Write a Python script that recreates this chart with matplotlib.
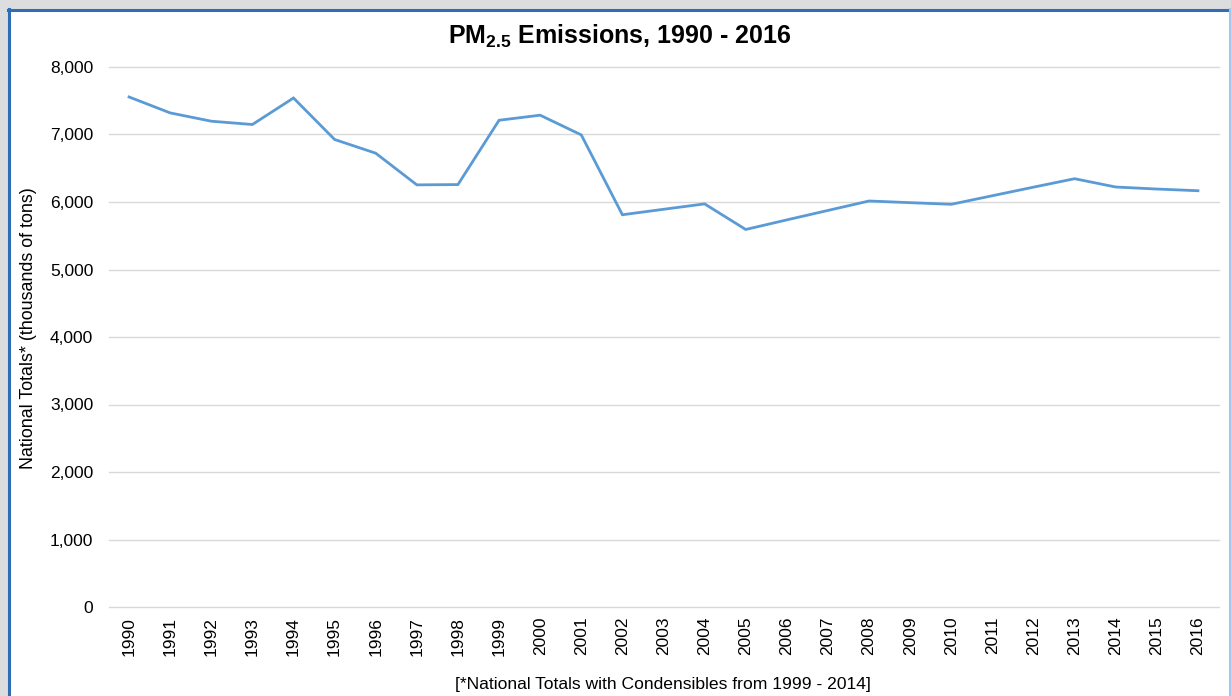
import matplotlib
matplotlib.use("Agg")
import matplotlib.pyplot as plt
from matplotlib.patches import Rectangle
from matplotlib.ticker import FuncFormatter

plt.rcParams['font.family'] = ['Liberation Sans', 'DejaVu Sans']
plt.rcParams['mathtext.fontset'] = 'custom'
plt.rcParams['mathtext.rm'] = 'Liberation Sans'
plt.rcParams['mathtext.bf'] = 'Liberation Sans:bold'

# data
years = [str(y) for y in range(1990, 2017)]
emissions = [7556, 7320, 7197, 7148, 7541, 6926, 6723, 6254, 6258, 7211,
             7286, 6994, 5811, 5892, 5972, 5593, 5735, 5875, 6015, 5990,
             5966, 6093, 6220, 6345, 6222, 6192, 6167]
y_ticks = [0, 1000, 2000, 3000, 4000, 5000, 6000, 7000, 8000]

W, H = 1231, 696
fig = plt.figure(figsize=(W / 100, H / 100), dpi=100)
fig.patch.set_facecolor('#dcdddf')

# white panel with blue frame
panel = Rectangle((8 / W, 0), (1222 / W), 1 - 9.5 / H,
                  transform=fig.transFigure, facecolor='white',
                  edgecolor='none', zorder=-5)
fig.add_artist(panel)
fig.add_artist(plt.Line2D([8.5 / W, 8.5 / W], [0, 1 - 9 / H], transform=fig.transFigure,
                          color='#2f6db5', lw=2.2, zorder=-4))
fig.add_artist(plt.Line2D([8 / W, 1231 / W], [1 - 9.5 / H, 1 - 9.5 / H], transform=fig.transFigure,
                          color='#2f6db5', lw=2.2, zorder=-4))
fig.add_artist(plt.Line2D([1230 / W, 1230 / W], [0, 1 - 9 / H], transform=fig.transFigure,
                          color='#a9c4e6', lw=1.5, zorder=-4))

ax = fig.add_axes([108.5 / W, 1 - 607 / H, 1110 / W, 540 / H])
ax.set_facecolor('none')
x = list(range(len(years)))
ax.plot(x, emissions, color='#5b9bd5', lw=2.0, solid_joinstyle='miter', zorder=3)

ax.set_xlim(-0.5, len(years) - 0.5)
ax.set_ylim(0, 8000)
ax.set_yticks(y_ticks)
ax.yaxis.set_major_formatter(FuncFormatter(lambda v, p: f"{int(v):,}"))
ax.set_xticks(x)
ax.set_xticklabels(years, rotation=90, fontsize=12.5)
ax.tick_params(axis='y', length=0, pad=11, labelsize=12.5)
ax.tick_params(axis='x', length=0, pad=7)
ax.grid(axis='y', color='#d9d9d9', lw=1.0)
for gl in ax.get_ygridlines():
    gl.set_clip_on(False)
ax.set_axisbelow(True)
for s in ax.spines.values():
    s.set_visible(False)

fig.text(29 / W, 1 - 328.5 / H, 'National Totals* (thousands of tons)',
         rotation=90, ha='center', va='center', fontsize=12.9)

fig.text(620 / W, 1 - 36 / H, r'PM$_{\mathbf{2.5}}$ Emissions, 1990 - 2016',
         ha='center', va='center', fontsize=18, fontweight='bold')
fig.text(663 / W, 1 - 685 / H, '[*National Totals with Condensibles from 1999 - 2014]',
         ha='center', va='center', fontsize=12.6)

fig.savefig('out.png', dpi=100, facecolor=fig.get_facecolor())
